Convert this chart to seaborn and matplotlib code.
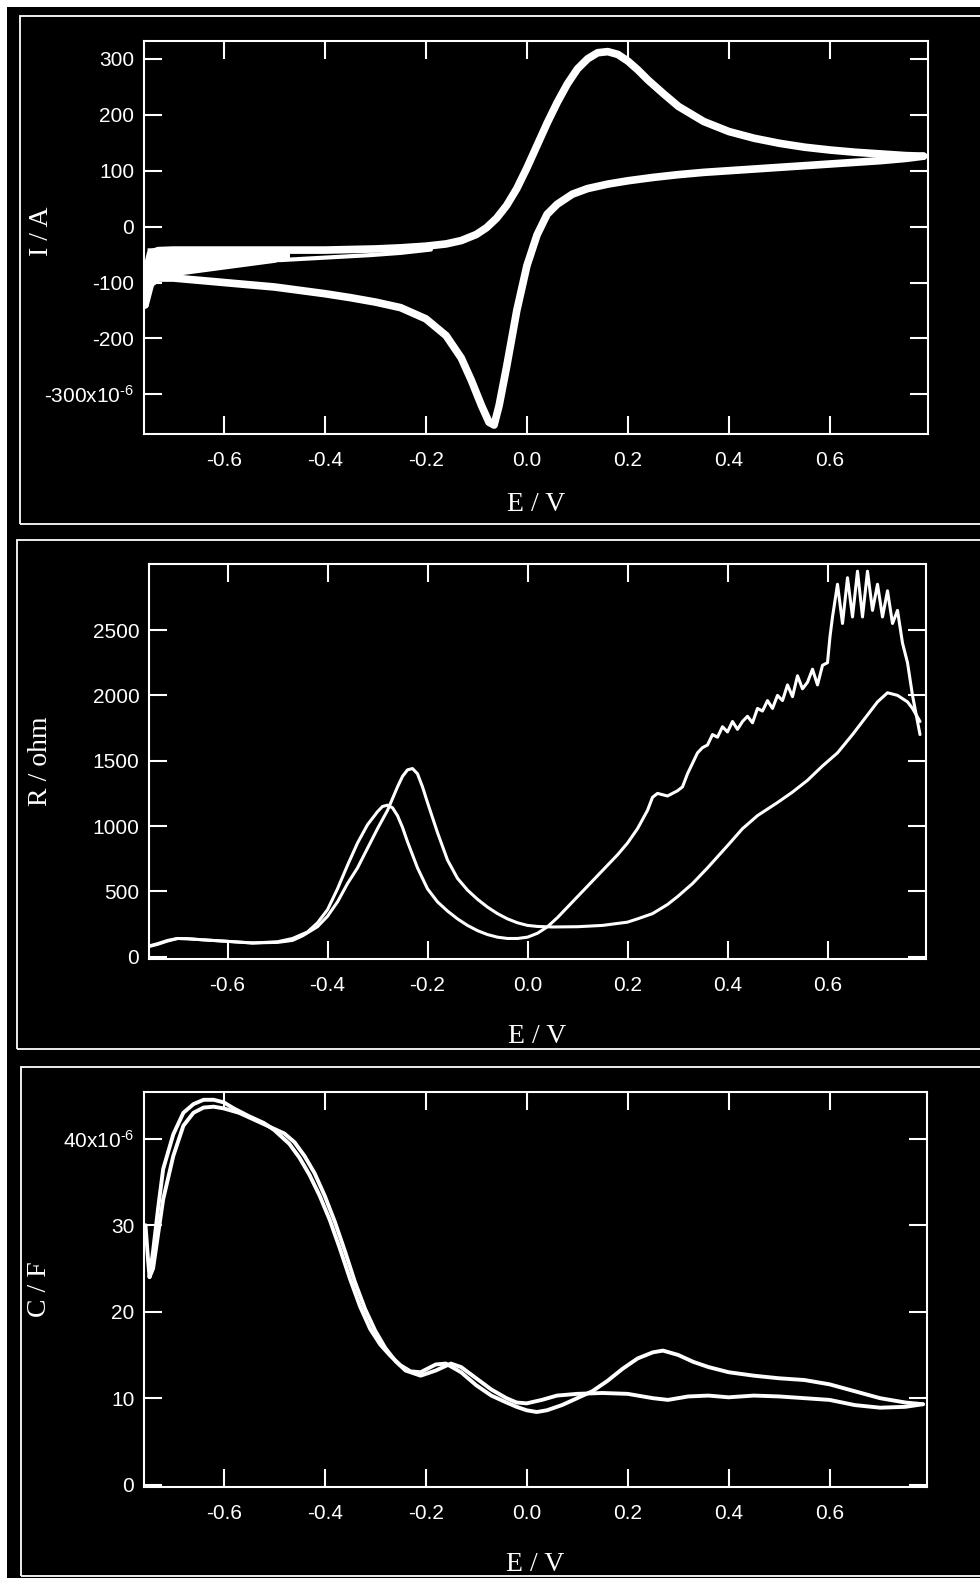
import numpy as np
import pandas as pd
import seaborn as sns
import matplotlib.pyplot as plt
from matplotlib.patches import Rectangle
from matplotlib.ticker import FuncFormatter

# ---- data ----
# panel 1: cyclic voltammogram, current in microamps
cv_fwd_E = [-0.756, -0.752, -0.745, -0.73, -0.70, -0.65, -0.60, -0.55, -0.50, -0.45, -0.40, -0.35,
            -0.30, -0.25, -0.20, -0.16, -0.13, -0.10, -0.08, -0.06, -0.04, -0.02, 0.00, 0.02, 0.04,
            0.06, 0.08, 0.10, 0.12, 0.14, 0.16, 0.18, 0.20, 0.22, 0.24, 0.27, 0.30, 0.35, 0.40, 0.45,
            0.50, 0.55, 0.60, 0.65, 0.70, 0.75, 0.785]
cv_fwd_I = [-140, -75, -48, -43, -42, -42, -42, -42, -42, -42, -42, -41,
            -40, -38, -35, -31, -25, -14, -2, 15, 38, 68, 105, 145, 185,
            222, 255, 282, 300, 311, 313, 308, 296, 280, 262, 238, 215, 188, 170, 158,
            149, 142, 137, 133, 130, 127, 126]
cv_rev_E = [0.785, 0.75, 0.70, 0.65, 0.60, 0.55, 0.50, 0.45, 0.40, 0.35, 0.30, 0.25, 0.20, 0.16,
            0.12, 0.09, 0.06, 0.04, 0.02, 0.00, -0.02, -0.04, -0.055, -0.065, -0.075, -0.09, -0.11,
            -0.13, -0.16, -0.20, -0.25, -0.30, -0.35, -0.40, -0.45, -0.50, -0.55, -0.60, -0.65,
            -0.70, -0.73, -0.745, -0.756]
cv_rev_I = [126, 122, 118, 115, 112, 109, 106, 103, 100, 97, 93, 88, 82, 76,
            68, 58, 40, 22, -15, -70, -150, -250, -320, -355, -350, -320, -275,
            -235, -195, -165, -145, -135, -127, -120, -114, -108, -104, -100, -96,
            -92, -92, -102, -140]
# oscillating start segment (envelope)
cv_osc_E = [-0.752, -0.70, -0.65, -0.60, -0.55, -0.50, -0.47]
cv_osc_top = [-38, -37, -37, -37, -38, -40, -44]
cv_osc_bot = [-97, -88, -82, -76, -70, -64, -58]
cv_start_E = [-0.49, -0.43, -0.37, -0.31, -0.25, -0.19]
cv_start_I = [-60, -57, -54, -51, -47, -41]

# panel 2: resistance in ohm
r_a_E = [-0.755, -0.74, -0.72, -0.70, -0.68, -0.65, -0.60, -0.55, -0.50, -0.47, -0.44, -0.42,
         -0.40, -0.38, -0.36, -0.34, -0.32, -0.30, -0.29, -0.28, -0.27, -0.26, -0.25, -0.24,
         -0.22, -0.20, -0.18, -0.16, -0.14, -0.12, -0.10, -0.08, -0.06, -0.04, -0.02, 0.00,
         0.02, 0.04, 0.06, 0.08, 0.10, 0.12, 0.14, 0.16, 0.18, 0.20, 0.22, 0.24, 0.25, 0.26,
         0.28, 0.30, 0.31, 0.32, 0.33, 0.34, 0.35, 0.36, 0.37, 0.38, 0.39, 0.40, 0.41, 0.42,
         0.43, 0.44, 0.45, 0.46, 0.47, 0.48, 0.49, 0.50, 0.51, 0.52, 0.53, 0.54, 0.55, 0.56,
         0.57, 0.58, 0.59, 0.60, 0.605, 0.61, 0.62, 0.63, 0.64, 0.65, 0.66, 0.67, 0.68, 0.69,
         0.70, 0.71, 0.72, 0.73, 0.74, 0.75, 0.76, 0.77, 0.78, 0.785]
r_a_R = [80, 95, 120, 140, 138, 130, 118, 105, 115, 140, 190, 260,
         360, 520, 700, 870, 1010, 1110, 1150, 1160, 1140, 1080, 990, 880,
         680, 520, 420, 350, 290, 240, 200, 170, 150, 140, 140, 150,
         180, 230, 300, 380, 460, 540, 620, 700, 780, 870, 980, 1120, 1220, 1250,
         1230, 1270, 1300, 1400, 1480, 1560, 1600, 1620, 1700, 1680, 1760, 1720, 1800, 1740,
         1800, 1840, 1790, 1900, 1880, 1960, 1900, 2000, 1960, 2080, 1990, 2150, 2050, 2100,
         2200, 2080, 2230, 2250, 2450, 2600, 2850, 2550, 2900, 2600, 2950, 2600, 2950, 2650,
         2850, 2600, 2800, 2550, 2650, 2400, 2250, 2000, 1800, 1700]
r_b_E = [-0.755, -0.74, -0.72, -0.70, -0.68, -0.65, -0.60, -0.55, -0.50, -0.47, -0.45, -0.42,
         -0.40, -0.38, -0.36, -0.34, -0.32, -0.30, -0.28, -0.26, -0.25, -0.24, -0.23, -0.22,
         -0.21, -0.20, -0.18, -0.16, -0.14, -0.12, -0.10, -0.08, -0.06, -0.04, -0.02, 0.00,
         0.02, 0.05, 0.10, 0.15, 0.20, 0.22, 0.25, 0.28, 0.30, 0.33, 0.36, 0.40, 0.43, 0.46,
         0.50, 0.53, 0.56, 0.59, 0.62, 0.65, 0.68, 0.70, 0.72, 0.74, 0.76, 0.77, 0.785]
r_b_R = [85, 100, 125, 140, 138, 130, 118, 106, 110, 125, 160, 230,
         310, 420, 560, 680, 830, 980, 1120, 1300, 1380, 1430, 1440, 1400,
         1300, 1180, 950, 740, 600, 510, 440, 380, 330, 290, 260, 240,
         232, 228, 230, 240, 265, 290, 330, 400, 460, 560, 680, 850, 980, 1080,
         1180, 1260, 1350, 1460, 1560, 1700, 1850, 1950, 2020, 2000, 1950, 1900, 1800]

# panel 3: capacitance in microfarad
c_a_E = [-0.755, -0.75, -0.747, -0.74, -0.73, -0.72, -0.70, -0.68, -0.66, -0.64, -0.62, -0.60,
         -0.58, -0.55, -0.52, -0.50, -0.47, -0.45, -0.43, -0.41, -0.39, -0.37, -0.35, -0.33,
         -0.31, -0.29, -0.27, -0.25, -0.23, -0.21, -0.18, -0.16, -0.13, -0.10, -0.07, -0.04,
         -0.02, 0.00, 0.02, 0.04, 0.07, 0.10, 0.13, 0.16, 0.19, 0.22, 0.25, 0.27, 0.30, 0.33,
         0.36, 0.40, 0.45, 0.50, 0.55, 0.60, 0.65, 0.70, 0.75, 0.785]
c_a_C = [30, 26, 24, 27, 32, 36.5, 40.5, 43, 44, 44.5, 44.5, 44.2,
         43.5, 42.6, 41.8, 41, 39.4, 37.8, 35.8, 33.4, 30.6, 27.3, 23.8, 20.6,
         18.0, 16.2, 14.9, 13.8, 13.1, 13.0, 13.9, 14.0, 13.0, 11.5, 10.3, 9.5,
         9.0, 8.6, 8.4, 8.6, 9.2, 10.0, 10.8, 12.0, 13.4, 14.6, 15.3, 15.5, 15.0, 14.2,
         13.6, 13.0, 12.6, 12.3, 12.1, 11.6, 10.8, 10.0, 9.5, 9.3]
c_b_E = [-0.747, -0.74, -0.73, -0.72, -0.70, -0.68, -0.66, -0.64, -0.62, -0.60, -0.57, -0.54,
         -0.51, -0.48, -0.46, -0.44, -0.42, -0.40, -0.38, -0.36, -0.34, -0.32, -0.30, -0.28,
         -0.26, -0.24, -0.21, -0.18, -0.15, -0.13, -0.10, -0.07, -0.04, -0.02, 0.00, 0.03, 0.06,
         0.10, 0.15, 0.20, 0.25, 0.28, 0.32, 0.36, 0.40, 0.45, 0.50, 0.55, 0.60, 0.65, 0.70,
         0.75, 0.785]
c_b_C = [24, 25, 29, 33, 38, 41.5, 43, 43.6, 43.7, 43.5, 43.0, 42.2,
         41.4, 40.6, 39.6, 38.0, 36.0, 33.4, 30.4, 27.0, 23.4, 20.3, 17.8, 15.8,
         14.3, 13.2, 12.6, 13.2, 14.0, 13.6, 12.3, 11, 10, 9.5, 9.4, 9.8, 10.3,
         10.5, 10.6, 10.5, 10.0, 9.8, 10.2, 10.3, 10.1, 10.3, 10.2, 10.0, 9.8, 9.2, 8.9,
         9.0, 9.3]

x_ticks = [-0.6, -0.4, -0.2, 0.0, 0.2, 0.4, 0.6]

sns.set_theme(style="ticks")
plt.rcParams['font.family'] = ['Liberation Sans', 'DejaVu Sans']
plt.rcParams['mathtext.fontset'] = 'custom'
plt.rcParams['mathtext.rm'] = 'Liberation Sans'
plt.rcParams['mathtext.it'] = 'Liberation Sans:italic'

W, H = 980, 1578
fig = plt.figure(figsize=(W / 100, H / 100), dpi=100, facecolor='black')

# white strips top/left
fig.add_artist(Rectangle((0, 1 - 7 / H), 1, 7 / H, transform=fig.transFigure, fc='white', ec='none'))
fig.add_artist(Rectangle((0, 0), 7 / W, 1, transform=fig.transFigure, fc='white', ec='none'))

# panel frames (left, top, bottom in pixels)
for left, top, bot in [(20, 16, 524), (17, 540, 1049), (21, 1067, 1576)]:
    fig.add_artist(Rectangle((left / W, 1 - bot / H), (1010 - left) / W, (bot - top) / H,
                             transform=fig.transFigure, fill=False, ec='white', lw=1.3))


def make_ax(left, right, top, bot):
    return fig.add_axes([left / W, 1 - bot / H, (right - left) / W, (bot - top) / H])


def style(ax, xlim, ylim, yticks, yfmt, ylabel, ylab_x, xlab_y):
    ax.set_facecolor('black')
    for s in ax.spines.values():
        s.set_color('white')
        s.set_linewidth(1.5)
    ax.set_xlim(xlim)
    ax.set_ylim(ylim)
    ax.set_xticks(x_ticks)
    ax.set_yticks(yticks)
    ax.xaxis.set_major_formatter(FuncFormatter(lambda v, p: f"{v:.1f}"))
    ax.yaxis.set_major_formatter(FuncFormatter(yfmt))
    ax.tick_params(which='major', direction='in', length=13, width=1.5, colors='white',
                   labelsize=15, top=True, right=True)
    ax.tick_params(axis='x', pad=12)
    ax.tick_params(axis='y', pad=7)
    ax.minorticks_off()
    ax.set_xlabel('E / V', family='Liberation Serif', fontsize=20, color='white')
    ax.set_ylabel(ylabel, family='Liberation Serif', fontsize=20, color='white')
    ax.xaxis.set_label_coords(0.5, xlab_y)
    ax.xaxis.label.set_verticalalignment('center')
    ax.yaxis.set_label_coords(ylab_x, 0.5)
    ax.yaxis.label.set_verticalalignment('center')
    ax.grid(False)


def fmt_cv(v, p):
    n = int(round(v * 1e6))
    if n == -300:
        return r"-300x10$^{\text{-6}}$"
    return str(n)


def fmt_r(v, p):
    return str(int(round(v)))


def fmt_c(v, p):
    n = int(round(v * 1e6))
    if n == 40:
        return r"40x10$^{\text{-6}}$"
    return str(n)


# ---- panel 1 ----
ax1 = make_ax(144, 928, 41, 434)
ax1.fill_between(cv_osc_E, np.array(cv_osc_bot) * 1e-6, np.array(cv_osc_top) * 1e-6,
                 color='white', lw=0)
sns.lineplot(x=np.array(cv_start_E), y=np.array(cv_start_I) * 1e-6, sort=False, estimator=None,
             color='white', linewidth=3, ax=ax1)
sns.lineplot(x=np.array(cv_fwd_E), y=np.array(cv_fwd_I) * 1e-6, sort=False, estimator=None,
             color='white', linewidth=5.5, ax=ax1)
sns.lineplot(x=np.array(cv_rev_E), y=np.array(cv_rev_I) * 1e-6, sort=False, estimator=None,
             color='white', linewidth=5.5, ax=ax1)
style(ax1, (-0.758, 0.794), (-371e-6, 332e-6), [-300e-6, -200e-6, -100e-6, 0, 100e-6, 200e-6, 300e-6],
      fmt_cv, 'I / A', -0.131, -0.18)
ax1.yaxis.set_label_coords(-0.131, 0.515)

# ---- panel 2 ----
ax2 = make_ax(149, 926, 564, 959)
sns.lineplot(x=r_a_E, y=r_a_R, sort=False, estimator=None, color='white', linewidth=2.2, ax=ax2)
sns.lineplot(x=r_b_E, y=r_b_R, sort=False, estimator=None, color='white', linewidth=2.2, ax=ax2)
style(ax2, (-0.757, 0.797), (-17, 3005), [0, 500, 1000, 1500, 2000, 2500],
      fmt_r, 'R / ohm', -0.139, -0.195)

# ---- panel 3 ----
ax3 = make_ax(144, 927, 1092, 1487)
sns.lineplot(x=np.array(c_a_E), y=np.array(c_a_C) * 1e-6, sort=False, estimator=None,
             color='white', linewidth=2.8, ax=ax3)
sns.lineplot(x=np.array(c_b_E), y=np.array(c_b_C) * 1e-6, sort=False, estimator=None,
             color='white', linewidth=2.8, ax=ax3)
style(ax3, (-0.758, 0.793), (-0.27e-6, 45.4e-6), [0, 10e-6, 20e-6, 30e-6, 40e-6],
      fmt_c, 'C / F', -0.133, -0.197)

fig.savefig('out.png', dpi=100, facecolor='black')
